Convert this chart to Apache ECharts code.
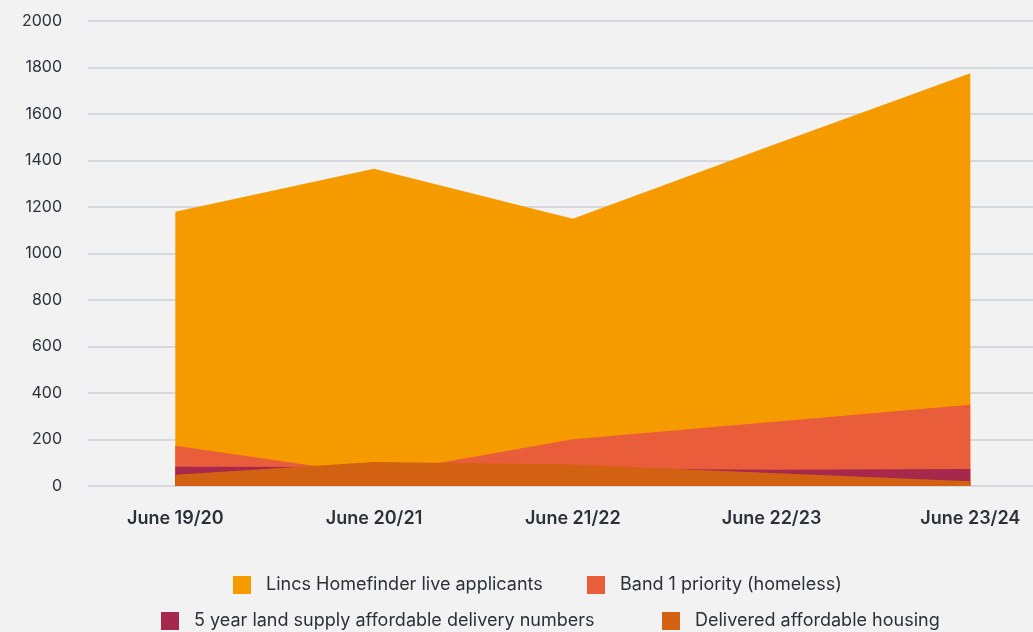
<!DOCTYPE html>
<html>
<head>
<meta charset="utf-8">
<script src="https://cdn.jsdelivr.net/npm/echarts@6/dist/echarts.min.js"></script>
<style>
html,body{margin:0;padding:0;background:#f2f2f2;}
#c{width:1033px;height:632px;}
</style>
</head>
<body>
<div id="c"></div>
<script>
const categories = ['June 19/20', 'June 20/21', 'June 21/22', 'June 22/23', 'June 23/24'];
const lincsHomefinder = [1180, 1365, 1150, 1465, 1775];
const band1Priority = [173, 50, 201, 275, 350];
const landSupply = [83, 82, 76, 70, 73];
const deliveredAffordable = [48, 103, 92, 56, 20];
const yTicks = { min: 0, max: 2000, interval: 200 };

const seriesNames = [
  'Lincs Homefinder live applicants',
  'Band 1 priority (homeless)',
  '5 year land supply affordable delivery numbers',
  'Delivered affordable housing'
];
const seriesData = [lincsHomefinder, band1Priority, landSupply, deliveredAffordable];
const colors = ['#F59B00', '#EA5D3A', '#A6284C', '#D26212'];
const font = 'Inter, "Noto Sans", sans-serif';
const textColor = '#2c3038';

const chart = echarts.init(document.getElementById('c'), null, { renderer: 'canvas' });

const legendPos = [
  { left: 233, top: 576 },
  { left: 587, top: 576 },
  { left: 161, top: 612 },
  { left: 662, top: 612 }
];

chart.setOption({
  backgroundColor: '#f2f2f2',
  animation: false,
  color: colors,
  grid: [
    { left: 175.3, right: 62.7, top: 21, bottom: 146 },
    { left: 88, right: 0, top: 21, bottom: 146 }
  ],
  xAxis: [
    {
      type: 'category', gridIndex: 0, data: categories, boundaryGap: false,
      axisLine: { show: false }, axisTick: { show: false },
      axisLabel: { color: textColor, fontFamily: font, fontSize: 18, fontWeight: 600, margin: 24 }
    },
    { type: 'value', gridIndex: 1, show: false, min: 0, max: 1 }
  ],
  yAxis: [
    {
      type: 'value', gridIndex: 0, min: yTicks.min, max: yTicks.max, interval: yTicks.interval,
      show: false, splitLine: { show: false }
    },
    {
      type: 'value', gridIndex: 1, min: yTicks.min, max: yTicks.max, interval: yTicks.interval,
      axisLine: { show: false }, axisTick: { show: false },
      axisLabel: { color: textColor, fontFamily: font, fontSize: 16, margin: 26, formatter: v => String(v) },
      splitLine: { lineStyle: { color: '#d5d8de', width: 2 } }
    }
  ],
  legend: legendPos.map((p, i) => ({
    left: p.left, top: p.top, padding: 0, itemWidth: 18, itemHeight: 18, icon: 'rect',
    data: [seriesNames[i]],
    textStyle: { color: textColor, fontFamily: font, fontSize: 18, padding: [0, 0, 0, 10] }
  })),
  series: seriesNames.map((name, i) => ({
    name, type: 'line', xAxisIndex: 0, yAxisIndex: 0,
    data: seriesData[i], showSymbol: false, symbol: 'none',
    lineStyle: { width: 0 },
    areaStyle: { color: colors[i], opacity: 1 },
    itemStyle: { color: colors[i] },
    z: 2 + i
  }))
});
</script>
</body>
</html>
